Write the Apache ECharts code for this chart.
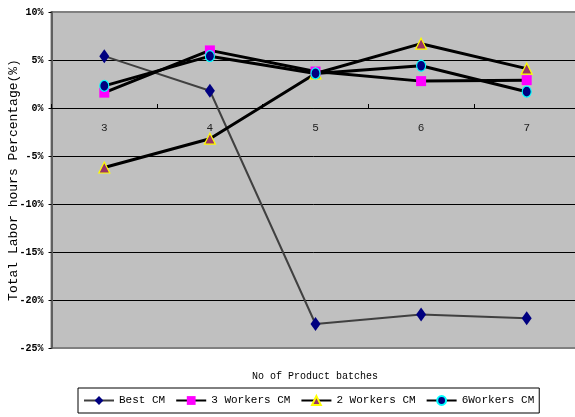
<!DOCTYPE html>
<html>
<head>
<meta charset="utf-8">
<script src="https://cdn.jsdelivr.net/npm/echarts@6/dist/echarts.min.js"></script>
<style>
  html, body { margin: 0; padding: 0; background: #ffffff; }
  #chart { width: 575px; height: 417px; }
</style>
</head>
<body>
<div id="chart"></div>
<script>
// Product batch counts along the x axis
const batches = ['3', '4', '5', '6', '7'];

// Total labor hours change (%) for each crew model
const bestCM     = [5.4, 1.8, -22.5, -21.5, -21.9];
const workers3CM = [1.6, 6.0, 3.8, 2.8, 2.9];
const workers2CM = [-6.2, -3.2, 3.6, 6.7, 4.1];
const workers6CM = [2.3, 5.4, 3.6, 4.4, 1.7];

// Value axis range and step (percent)
const yMin = -25, yMax = 10, yStep = 5;

// Plot box
const gridTop = 12, gridHeight = 336;

const mono = '"Liberation Mono", "Courier New", monospace';

const chart = echarts.init(document.getElementById('chart'), null, { renderer: 'canvas' });

function thickLine(name, data, symbol, size, fill, border) {
  return {
    name: name,
    type: 'line',
    data: data,
    symbol: symbol,
    symbolSize: size,
    showAllSymbol: true,
    lineStyle: { color: '#000000', width: 3 },
    itemStyle: { color: fill, borderColor: border, borderWidth: border ? 1.2 : 0 },
    emphasis: { disabled: true },
    animation: false
  };
}

// the category axis sits on the 0% line
const zeroOffset = gridHeight * (0 - yMin) / (yMax - yMin);

chart.setOption({
  backgroundColor: '#ffffff',
  animation: false,
  title: {
    text: 'No of Product batches',
    left: 247,
    top: 366,
    textStyle: { fontFamily: mono, fontSize: 10, fontWeight: 'normal', color: '#000' }
  },
  grid: {
    left: 51.5,
    top: gridTop,
    width: 528,
    height: gridHeight,
    containLabel: false,
    outerBoundsMode: 'none',
    show: true,
    backgroundColor: '#c0c0c0',
    borderColor: '#808080',
    borderWidth: 2
  },
  legend: {
    left: 78,
    top: 388,
    orient: 'horizontal',
    padding: [7, 5, 7, 5],
    itemWidth: 30,
    itemHeight: 11,
    itemGap: 10,
    borderColor: '#000000',
    borderWidth: 1,
    backgroundColor: '#ffffff',
    textStyle: { fontFamily: mono, fontSize: 11, color: '#000' },
    data: ['Best CM', '3 Workers CM', '2 Workers CM', '6Workers CM']
  },
  xAxis: {
    type: 'category',
    data: batches,
    boundaryGap: true,
    position: 'bottom',
    offset: -zeroOffset,
    axisLine: { onZero: false, lineStyle: { color: '#000000', width: 1 } },
    axisTick: { show: true, inside: true, length: 4, lineStyle: { color: '#000' } },
    axisLabel: { margin: 15, fontFamily: mono, fontSize: 11, color: '#222' },
    splitLine: { show: false }
  },
  yAxis: {
    type: 'value',
    min: yMin,
    max: yMax,
    interval: yStep,
    name: 'Total Labor hours Percentage(%)',
    nameLocation: 'middle',
    nameGap: 31,
    nameMoveOverlap: false,
    nameRotate: 90,
    nameTextStyle: { fontFamily: mono, fontSize: 13, color: '#000' },
    axisLine: { show: true, lineStyle: { color: '#606060', width: 2 } },
    axisTick: { show: true, length: 3, lineStyle: { color: '#000' } },
    axisLabel: {
      formatter: '{value}%',
      margin: 8,
      fontFamily: mono,
      fontSize: 10,
      fontWeight: 'bold',
      color: '#000'
    },
    splitLine: {
      show: true,
      showMinLine: false,
      showMaxLine: false,
      lineStyle: { color: '#000000', width: 1 }
    }
  },
  series: [
    {
      name: 'Best CM',
      type: 'line',
      data: bestCM,
      symbol: 'diamond',
      symbolSize: [10, 14],
      lineStyle: { color: '#404040', width: 2 },
      itemStyle: { color: '#000080' },
      emphasis: { disabled: true },
      animation: false
    },
    thickLine('3 Workers CM', workers3CM, 'rect', 10, '#ff00ff', null),
    thickLine('2 Workers CM', workers2CM, 'triangle', 11, '#993366', '#ffff00'),
    thickLine('6Workers CM', workers6CM, 'circle', [9, 11], '#000080', '#00ffff')
  ]
});
</script>
</body>
</html>
